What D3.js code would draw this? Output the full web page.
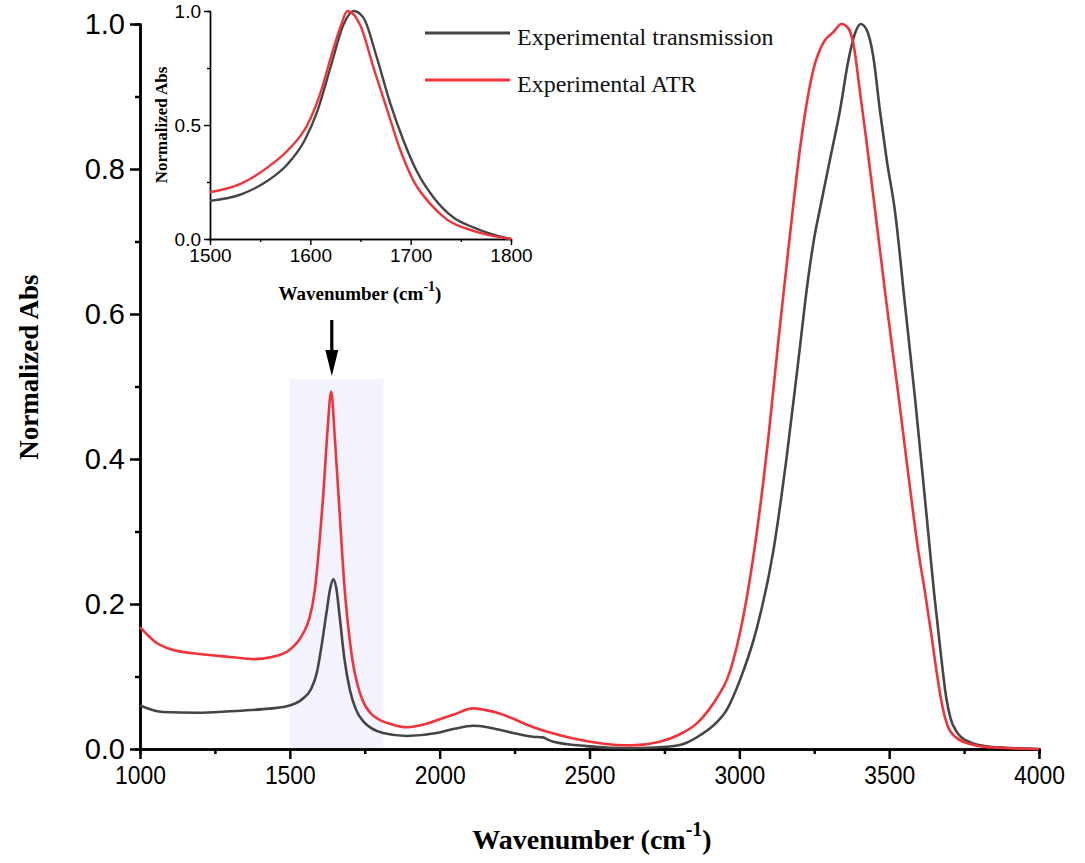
<!DOCTYPE html>
<html>
<head>
<meta charset="utf-8">
<script src="https://cdn.jsdelivr.net/npm/d3@7"></script>
<style>
  body { margin: 0; background: #fff; }
  svg { display: block; }
  .tick text { font-family: "Liberation Sans", Arial, sans-serif; fill: #000; }
  .serif { font-family: "Liberation Serif", "Times New Roman", serif; }
</style>
</head>
<body>
<div id="chart"></div>
<script>
// ---- data ----
// main spectrum, transmission (dark grey)
const transWn = [1000, 1077, 1189, 1300, 1411, 1490, 1545, 1570, 1590, 1605, 1623, 1635, 1645, 1655, 1667, 1682, 1700, 1720, 1745, 1811, 1890, 1990, 2050, 2112, 2160, 2224, 2312, 2345, 2360, 2380, 2490, 2646, 2757, 2820, 2869, 2920, 2958, 3002, 3058, 3113, 3158, 3197, 3230, 3250, 3269, 3302, 3336, 3364, 3386, 3405, 3425, 3447, 3469, 3492, 3519, 3553, 3587, 3630, 3650, 3670, 3690, 3705, 3725, 3760, 3836, 4000];
const transAbs = [0.060, 0.051, 0.050, 0.052, 0.055, 0.059, 0.070, 0.082, 0.105, 0.140, 0.190, 0.222, 0.234, 0.222, 0.180, 0.125, 0.082, 0.055, 0.038, 0.022, 0.018, 0.022, 0.028, 0.032, 0.030, 0.024, 0.017, 0.016, 0.013, 0.010, 0.004, 0.001, 0.003, 0.008, 0.019, 0.035, 0.054, 0.095, 0.166, 0.272, 0.403, 0.536, 0.650, 0.705, 0.745, 0.812, 0.881, 0.950, 0.987, 1.000, 0.992, 0.955, 0.881, 0.812, 0.743, 0.612, 0.481, 0.300, 0.215, 0.140, 0.072, 0.042, 0.024, 0.011, 0.003, 0.000];

// main spectrum, ATR (red)
const atrWn = [1000, 1050, 1100, 1200, 1300, 1380, 1440, 1500, 1545, 1565, 1582, 1600, 1612, 1625, 1638, 1650, 1662, 1684, 1700, 1712, 1725, 1745, 1768, 1800, 1840, 1890, 1950, 2000, 2050, 2110, 2150, 2200, 2250, 2300, 2357, 2450, 2535, 2640, 2735, 2800, 2860, 2900, 2935, 2958, 3002, 3058, 3097, 3130, 3158, 3180, 3200, 3225, 3247, 3280, 3314, 3341, 3364, 3380, 3403, 3425, 3453, 3491, 3533, 3565, 3597, 3620, 3640, 3660, 3678, 3695, 3726, 3780, 3850, 4000];
const atrAbs = [0.168, 0.148, 0.138, 0.131, 0.127, 0.124, 0.127, 0.137, 0.160, 0.180, 0.215, 0.290, 0.353, 0.435, 0.493, 0.430, 0.353, 0.215, 0.150, 0.115, 0.090, 0.065, 0.050, 0.040, 0.034, 0.030, 0.034, 0.041, 0.048, 0.056, 0.054, 0.049, 0.041, 0.032, 0.024, 0.014, 0.008, 0.005, 0.010, 0.020, 0.036, 0.055, 0.077, 0.095, 0.160, 0.298, 0.430, 0.562, 0.668, 0.750, 0.820, 0.891, 0.937, 0.974, 0.989, 1.000, 0.994, 0.974, 0.905, 0.836, 0.743, 0.615, 0.481, 0.375, 0.274, 0.215, 0.160, 0.102, 0.058, 0.032, 0.015, 0.006, 0.002, 0.000];

// inset (1500-1800 renormalised)
const insetTransWn = [1500, 1531, 1557, 1577, 1594, 1607, 1620, 1633, 1643, 1653, 1666, 1680, 1693, 1706, 1723, 1743, 1763, 1780, 1800];
const insetTransAbs = [0.167, 0.196, 0.254, 0.327, 0.430, 0.561, 0.751, 0.940, 1.000, 0.970, 0.800, 0.590, 0.430, 0.298, 0.181, 0.093, 0.050, 0.022, 0.000];
const insetAtrWn = [1500, 1531, 1557, 1580, 1597, 1610, 1622, 1630, 1637, 1650, 1663, 1677, 1690, 1703, 1720, 1736, 1763, 1800];
const insetAtrAbs = [0.205, 0.243, 0.313, 0.400, 0.500, 0.640, 0.820, 0.930, 1.000, 0.935, 0.751, 0.561, 0.386, 0.254, 0.152, 0.086, 0.035, 0.000];

// axes
const xTicks = [1000, 1500, 2000, 2500, 3000, 3500, 4000];
const xMinor = [1250, 1750, 2250, 2750, 3250, 3750];
const yTicks = [0, 0.2, 0.4, 0.6, 0.8, 1.0];
const yMinor = [0.1, 0.3, 0.5, 0.7, 0.9];
const insetXTicks = [1500, 1600, 1700, 1800];
const insetXMinor = [1550, 1650, 1750];
const insetYTicks = [0, 0.5, 1.0];
const insetYMinor = [0.25, 0.75];

// highlighted band and arrow
const bandWn = [1500, 1812];
const bandTop = 0.51;
const arrowWn = 1640;

const seriesNames = ["Experimental transmission", "Experimental ATR"];
const seriesColors = ["#454545", "#f2333a"];

// ---- drawing ----
const width = 1085, height = 863;
const svg = d3.select("#chart").append("svg")
  .attr("width", width)
  .attr("height", height);

const x = d3.scaleLinear().domain([1000, 4000]).range([140, 1039]);
const y = d3.scaleLinear().domain([0, 1]).range([749, 24]);

// shaded band
svg.append("rect")
  .attr("x", x(bandWn[0]))
  .attr("y", y(bandTop))
  .attr("width", x(bandWn[1]) - x(bandWn[0]))
  .attr("height", y(0) - y(bandTop))
  .attr("fill", "#f3f3fd");

function styleAxis(g, w) {
  g.select(".domain").attr("stroke", "#000").attr("stroke-width", w);
  g.selectAll(".tick line").attr("stroke", "#000").attr("stroke-width", w);
}

// minor ticks first
svg.append("g")
  .attr("transform", `translate(0,${y(0)})`)
  .call(d3.axisBottom(x).tickValues(xMinor).tickSize(5).tickFormat(""))
  .call(g => styleAxis(g, 2.5));
svg.append("g")
  .attr("transform", `translate(${x(1000)},0)`)
  .call(d3.axisLeft(y).tickValues(yMinor).tickSize(5).tickFormat(""))
  .call(g => styleAxis(g, 2.5));

const xAxis = svg.append("g")
  .attr("transform", `translate(0,${y(0)})`)
  .call(d3.axisBottom(x).tickValues(xTicks).tickSize(10).tickSizeOuter(0).tickPadding(7).tickFormat(d3.format("d")))
  .call(g => styleAxis(g, 2.5));
xAxis.selectAll(".tick text")
  .style("font-size", "26px")
  .attr("transform", "scale(0.88,1)");

const yAxis = svg.append("g")
  .attr("transform", `translate(${x(1000)},0)`)
  .call(d3.axisLeft(y).tickValues(yTicks).tickSize(10).tickSizeOuter(0).tickPadding(5).tickFormat(d3.format(".1f")))
  .call(g => styleAxis(g, 2.5));
yAxis.selectAll(".tick text").style("font-size", "29px");

// axis titles
svg.append("text")
  .attr("class", "serif")
  .attr("transform", `translate(38,367) rotate(-90)`)
  .attr("text-anchor", "middle")
  .style("font-size", "27px")
  .style("font-weight", "bold")
  .text("Normalized Abs");

const xt = svg.append("text")
  .attr("class", "serif")
  .attr("x", 592)
  .attr("y", 849)
  .attr("text-anchor", "middle")
  .style("font-size", "28px")
  .style("font-weight", "bold");
xt.append("tspan").text("Wavenumber (cm");
xt.append("tspan").attr("dy", -13).style("font-size", "20px").text("-1");
xt.append("tspan").attr("dy", 13).text(")");

// curves
const line = d3.line()
  .x(d => x(d[0]))
  .y(d => y(d[1]))
  .curve(d3.curveMonotoneX);

const mainSeries = [
  d3.zip(transWn, transAbs),
  d3.zip(atrWn, atrAbs)
];
mainSeries.forEach((pts, i) => {
  svg.append("path")
    .datum(pts)
    .attr("fill", "none")
    .attr("stroke", seriesColors[i])
    .attr("stroke-width", 2.6)
    .attr("stroke-linejoin", "round")
    .attr("d", line);
});

// arrow into the band
const ax = x(arrowWn);
svg.append("line")
  .attr("x1", ax).attr("x2", ax)
  .attr("y1", 320).attr("y2", 352)
  .attr("stroke", "#000")
  .attr("stroke-width", 3.2);
svg.append("path")
  .attr("d", `M${ax - 6.5},350 L${ax + 6.5},350 L${ax},376 Z`)
  .attr("fill", "#000");

// legend
const legend = svg.append("g").attr("transform", "translate(425,33)");
seriesNames.forEach((name, i) => {
  const row = legend.append("g").attr("transform", `translate(0,${i * 47})`);
  row.append("line")
    .attr("x1", 0).attr("x2", 85)
    .attr("stroke", seriesColors[i])
    .attr("stroke-width", 3);
  row.append("text")
    .attr("class", "serif")
    .attr("x", 92)
    .attr("y", 12)
    .style("font-size", "24px")
    .attr("fill", "#111")
    .text(name);
});

// ---- inset ----
const xi = d3.scaleLinear().domain([1500, 1800]).range([210, 511]);
const yi = d3.scaleLinear().domain([0, 1]).range([239, 11]);
const inset = svg.append("g");

inset.append("g")
  .attr("transform", `translate(0,${yi(0)})`)
  .call(d3.axisBottom(xi).tickValues(insetXMinor).tickSize(3).tickFormat(""))
  .call(g => styleAxis(g, 1.4));
inset.append("g")
  .attr("transform", `translate(${xi(1500)},0)`)
  .call(d3.axisLeft(yi).tickValues(insetYMinor).tickSize(3).tickFormat(""))
  .call(g => styleAxis(g, 1.4));

const ixAxis = inset.append("g")
  .attr("transform", `translate(0,${yi(0)})`)
  .call(d3.axisBottom(xi).tickValues(insetXTicks).tickSize(6).tickSizeOuter(0).tickPadding(4).tickFormat(d3.format("d")))
  .call(g => styleAxis(g, 1.4));
ixAxis.selectAll(".tick text").style("font-size", "19px");

const iyAxis = inset.append("g")
  .attr("transform", `translate(${xi(1500)},0)`)
  .call(d3.axisLeft(yi).tickValues(insetYTicks).tickSize(6).tickSizeOuter(0).tickPadding(3).tickFormat(d3.format(".1f")))
  .call(g => styleAxis(g, 1.4));
iyAxis.selectAll(".tick text").style("font-size", "19px");

inset.append("text")
  .attr("class", "serif")
  .attr("transform", `translate(167,${yi(0.5)}) rotate(-90)`)
  .attr("text-anchor", "middle")
  .style("font-size", "17px")
  .style("font-weight", "bold")
  .text("Normalized Abs");

const ixt = inset.append("text")
  .attr("class", "serif")
  .attr("x", 360)
  .attr("y", 300)
  .attr("text-anchor", "middle")
  .style("font-size", "19px")
  .style("font-weight", "bold");
ixt.append("tspan").text("Wavenumber (cm");
ixt.append("tspan").attr("dy", -9).style("font-size", "14px").text("-1");
ixt.append("tspan").attr("dy", 9).text(")");

const lineInset = d3.line()
  .x(d => xi(d[0]))
  .y(d => yi(d[1]))
  .curve(d3.curveMonotoneX);

[d3.zip(insetTransWn, insetTransAbs), d3.zip(insetAtrWn, insetAtrAbs)].forEach((pts, i) => {
  inset.append("path")
    .datum(pts)
    .attr("fill", "none")
    .attr("stroke", seriesColors[i])
    .attr("stroke-width", 2.4)
    .attr("d", lineInset);
});
</script>
</body>
</html>
